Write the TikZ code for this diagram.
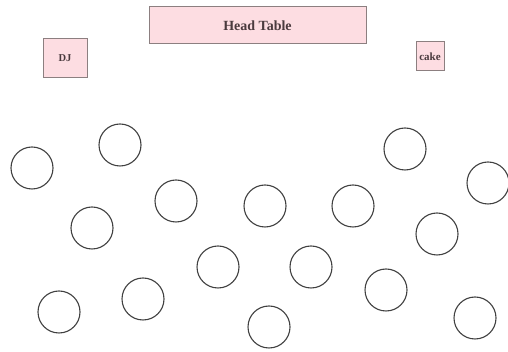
\documentclass[tikz,border=0pt]{standalone}
\usepackage{fontspec}
\setmainfont{Liberation Serif}
\usetikzlibrary{positioning}
\definecolor{tablepink}{HTML}{FDDDE2}
\definecolor{edgegray}{HTML}{8C7F80}
\definecolor{inkdark}{HTML}{4A3A3E}
\begin{document}
\begin{tikzpicture}[x=1pt, y=1pt,
    box/.style={draw=edgegray, line width=1pt, fill=tablepink, inner sep=0pt, text=inkdark},
    guest/.style={draw=black!75, line width=1.1pt, circle, minimum size=42pt, inner sep=0pt}]
    \useasboundingbox (0,0) rectangle (508,352);
    \node[box, minimum width=217pt, minimum height=37pt, font=\fontsize{14}{16}\selectfont\bfseries] (head) at (257.5,326.5) {Head Table};
    \node[box, minimum width=44pt, minimum height=39pt, font=\fontsize{10.5}{12}\selectfont\bfseries] (dj) at (65,293.5) {DJ};
    \node[box, minimum width=28pt, minimum height=29pt, font=\fontsize{11}{12}\selectfont\bfseries] (cake) at (430,295.5) {cake};

    % guest tables
    \foreach \n/\x/\y in {1/32/184, 2/120/207, 3/92/124, 4/176/151, 5/265/146, 6/353/146,
        7/405/203, 8/488/169, 9/437/118, 10/218/85, 11/311/85, 12/59/40,
        13/143/53, 14/269/25, 15/386/62, 16/475/34}
        \node[guest] (t\n) at (\x,\y) {};
\end{tikzpicture}
\end{document}
